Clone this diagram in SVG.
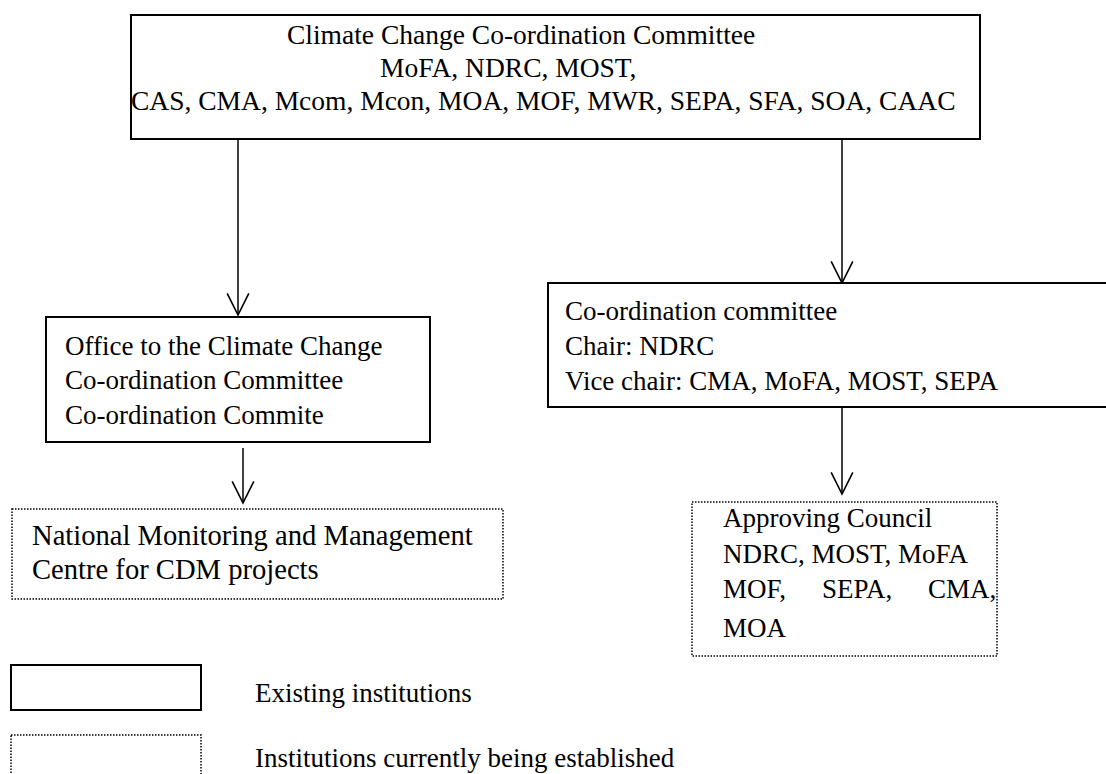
<svg xmlns="http://www.w3.org/2000/svg" width="1106" height="774" viewBox="0 0 1106 774">
<style>
text{font-family:"Liberation Serif","Times New Roman",serif;font-size:27px;fill:#000}
.big{font-size:27.5px}
.nm{font-size:28.6px}
.solid{fill:#fff;stroke:#000;stroke-width:2}
.dot{fill:#fff;stroke:#000;stroke-width:1.5;stroke-dasharray:1.5 1.5}
.conn{stroke:#000;stroke-width:1.5;fill:none}
</style>
<defs>
<marker id="arr" markerUnits="userSpaceOnUse" markerWidth="26" markerHeight="26" viewBox="-22 -12 24 24" refX="0" refY="0" orient="auto">
<path d="M-20,-10 L0,0 L-20,10" fill="none" stroke="#000" stroke-width="1.5"/>
</marker>
</defs>
<g id="connectors">
<line class="conn" x1="238" y1="139" x2="238" y2="315" marker-end="url(#arr)"/>
<line class="conn" x1="842" y1="139" x2="842" y2="283" marker-end="url(#arr)"/>
<line class="conn" x1="243" y1="448" x2="243" y2="503" marker-end="url(#arr)"/>
<line class="conn" x1="842" y1="407" x2="842" y2="494" marker-end="url(#arr)"/>
</g>
<g id="climate-committee">
<rect class="solid" x="131" y="15" width="849" height="124"/>
<text class="big" x="287" y="44">Climate Change Co-ordination Committee</text>
<text class="big" x="380" y="77">MoFA, NDRC, MOST,</text>
<text class="big" x="131" y="110">CAS, CMA, Mcom, Mcon, MOA, MOF, MWR, SEPA, SFA, SOA, CAAC</text>
</g>
<g id="office">
<rect class="solid" x="46" y="317" width="384" height="125"/>
<text x="65" y="355">Office to the Climate Change</text>
<text x="65" y="389">Co-ordination Committee</text>
<text x="65" y="424">Co-ordination Commite</text>
</g>
<g id="coordination-committee">
<rect class="solid" x="548" y="283" width="570" height="124"/>
<text x="565" y="320">Co-ordination committee</text>
<text x="565" y="355">Chair: NDRC</text>
<text x="565" y="390">Vice chair: CMA, MoFA, MOST, SEPA</text>
</g>
<g id="nmmc">
<rect class="dot" x="12" y="509" width="491" height="90"/>
<text class="nm" x="32" y="545">National Monitoring and Management</text>
<text class="nm" x="32" y="579">Centre for CDM  projects</text>
</g>
<g id="approving-council">
<rect class="dot" x="692" y="502" width="305" height="154"/>
<text x="723" y="527">Approving Council</text>
<text x="723" y="563">NDRC, MOST, MoFA</text>
<text x="723" y="598">MOF,</text>
<text x="822" y="598">SEPA,</text>
<text x="928" y="598">CMA,</text>
<text x="723" y="637">MOA</text>
</g>
<g id="legend">
<rect class="solid" x="11" y="665" width="190" height="45"/>
<text x="255" y="702">Existing institutions</text>
<rect class="dot" x="11" y="735" width="190" height="60"/>
<text x="255" y="767">Institutions currently being established</text>
</g>
</svg>
